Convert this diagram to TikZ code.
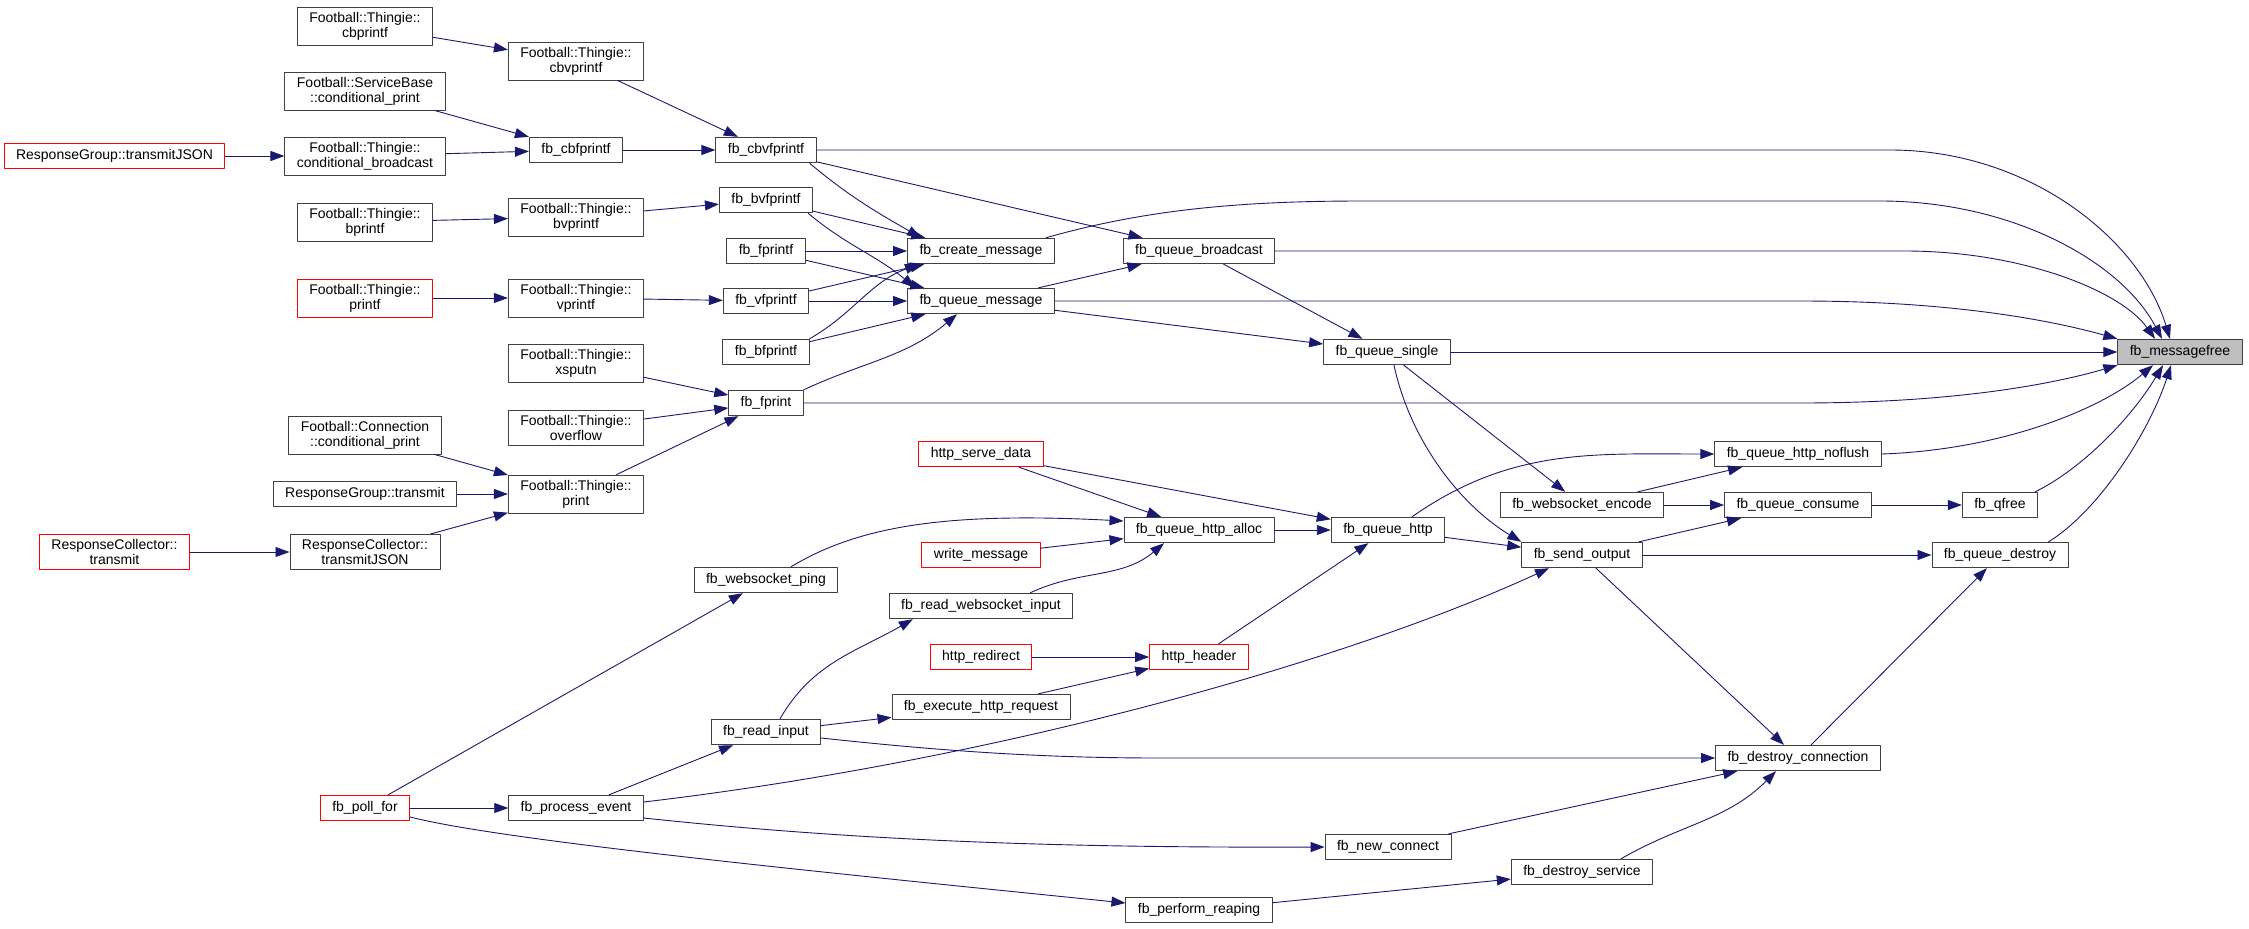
\documentclass[tikz,border=0pt]{standalone}
\usepackage{fontspec}
\setmainfont{Liberation Sans}
\usetikzlibrary{arrows.meta,calc}
\definecolor{edgeblue}{HTML}{191970}

\begin{document}
\begin{tikzpicture}[x=1pt,y=-1pt,line join=round,line cap=round,
 fn/.style={draw=black!75,line width=0.9pt,fill=white,font=\fontsize{14}{15}\selectfont,inner xsep=12pt,inner ysep=5pt,minimum height=25.5pt,align=center},
 redfn/.style={fn,draw=red},
 rootfn/.style={fn,fill=black!25},
 ln/.style={draw=edgeblue,line width=0.9pt,-{Triangle[length=14pt,width=10pt]}}]
\useasboundingbox (0,0) rectangle (2249,929);
\foreach \n/\x/\y/\t in {cbf/576/150/fb\_cbfprintf,cbvf/766/150/fb\_cbvfprintf,bvf/766/200/fb\_bvfprintf,fpf/766/251/fb\_fprintf,vf/766/301/fb\_vfprintf,bf/766/352/fb\_bfprintf,fp/766/403/fb\_fprint,cm/981/251/fb\_create\_message,qm/981/301/fb\_queue\_message,qb/1199/251/fb\_queue\_broadcast,qs/1387/352/fb\_queue\_single,qha/1199/530/fb\_queue\_http\_alloc,qh/1388/530/fb\_queue\_http,wsp/766/580/fb\_websocket\_ping,rwi/981/606/fb\_read\_websocket\_input,ehr/981/707/fb\_execute\_http\_request,ri/766/732/fb\_read\_input,pe/576/808/fb\_process\_event,nc/1388/847/fb\_new\_connect,pr/1199/910/fb\_perform\_reaping,ds/1582/872/fb\_destroy\_service,dc/1798/758/fb\_destroy\_connection,qhn/1798/454/fb\_queue\_http\_noflush,wse/1582/505/fb\_websocket\_encode,qc/1798/505/fb\_queue\_consume,qf/2000/505/fb\_qfree,so/1582/555/fb\_send\_output,qd/2000/555/fb\_queue\_destroy,rgt/365/494/ResponseGroup::transmit}
{\node[fn] (\n) at (\x,\y) {\t};}
\foreach \n/\x/\y/\a/\b in {tcb/365/26/Football::Thingie::/cbprintf,tcbv/576/61/Football::Thingie::/cbvprintf,sbcp/365/91/Football::ServiceBase/::conditional\_print,tcbc/365/156/Football::Thingie::/conditional\_broadcast,tb/365/222/Football::Thingie::/bprintf,tbv/576/217/Football::Thingie::/bvprintf,tvp/576/298/Football::Thingie::/vprintf,txs/576/363/Football::Thingie::/xsputn,tov/576/428/Football::Thingie::/overflow,ccp/365/435/Football::Connection/::conditional\_print,tpr/576/494/Football::Thingie::/print,rctj/365/552/ResponseCollector::/transmitJSON}
{\node[fn] (\n) at (\x,\y) {\a\\\b};}
\node[redfn] (rgtj) at (114.5,156) {ResponseGroup::transmitJSON};
\node[redfn] (tp) at (365,298) {Football::Thingie::\\printf};
\node[redfn] (rct) at (114.5,552) {ResponseCollector::\\transmit};
\foreach \n/\x/\y/\t in {hsd/981/454/http\_serve\_data,wm/981/555/write\_message,hr/981/657/http\_redirect,hh/1199/657/http\_header,pf/365/808/fb\_poll\_for}
{\node[redfn] (\n) at (\x,\y) {\t};}
\node[rootfn] (mf) at (2180,352) {fb\_messagefree};
\foreach \a/\b in {rgtj/tcbc,tcb/tcbv,sbcp/cbf,tcbc/cbf,tcbv/cbvf,cbf/cbvf,tb/tbv,tbv/bvf,tp/tvp,tvp/vf,txs/fp,tov/fp,tpr/fp,ccp/tpr,rgt/tpr,rctj/tpr,rct/rctj,cbvf/qb,bvf/cm,fpf/cm,fpf/qm,vf/cm,vf/qm,bf/qm,qm/qb,qm/qs,qb/qs,qs/mf,qs/wse,hsd/qha,hsd/qh,wm/qha,qha/qh,qh/so,hh/qh,hr/hh,ehr/hh,ri/ehr,pe/ri,pf/pe,pf/wsp,pr/ds,nc/dc,so/dc,so/qc,so/qd,wse/qhn,wse/qc,qc/qf,dc/qd}
{\draw[ln] (\a) -- (\b);}
\draw[ln] ([xshift=-7pt]cbvf.south east) to[out=-40,in=150] ([xshift=14pt]cm.north west);
\draw[ln] ([xshift=-5pt]bvf.south east) to[out=-40,in=140] ([xshift=8pt]qm.north west);
\draw[ln] (bf.north east) to[out=30,in=-160] ([xshift=12pt]cm.south west);
\draw[ln] (fp.north east) to[out=25,in=-140] ([xshift=50pt]qm.south west);
\draw[ln] ([xshift=-9pt]cm.north east) .. controls (1150,208) and (1250,201) .. (1363,201) -- (1880,201) .. controls (2010,201) and (2120,260) .. ([xshift=-18pt]mf.north);
\draw[ln] (cbvf.east) -- (1890,150) .. controls (2030,150) and (2140,240) .. ([xshift=-10pt]mf.north);
\draw[ln] (qb.east) -- (1905,251) .. controls (2020,251) and (2120,290) .. ([xshift=-25pt]mf.north);
\draw[ln] (qm.east) -- (1800,301) .. controls (1950,301) and (2050,320) .. (mf.north west);
\draw[ln] (fp.east) -- (1800,403) .. controls (1950,403) and (2050,385) .. (mf.south west);
\draw[ln] (qhn.east) .. controls (2000,450) and (2100,410) .. ([xshift=-27pt]mf.south);
\draw[ln] ([xshift=-3pt]qf.north east) .. controls (2080,470) and (2130,420) .. ([xshift=-17pt]mf.south);
\draw[ln] ([xshift=-20pt]qd.north east) .. controls (2100,510) and (2150,430) .. ([xshift=-9pt]mf.south);
\draw[ln] ([xshift=7pt]qs.south) .. controls (1410,440) and (1460,505) .. (so.north west);
\draw[ln] ([xshift=24pt]qh.north) to[out=35,in=180] (qhn.west);
\draw[ln] ([xshift=25pt]wsp.north) .. controls (860,525) and (950,512) .. ([yshift=9pt]qha.west);
\draw[ln] ([xshift=-43pt]rwi.north east) to[out=25,in=-140] ([xshift=-35pt]qha.south);
\draw[ln] ([xshift=14pt]ri.north) to[out=60,in=-150] ([xshift=24pt]rwi.south west);
\draw[ln] ([yshift=-6pt]ri.east) .. controls (950,752) and (1050,758) .. (1160,758) -- (dc.west);
\draw[ln] ([yshift=6pt]pe.east) .. controls (1000,760) and (1350,660) .. ([xshift=-33pt]so.south);
\draw[ln] ([yshift=-10pt]pe.east) .. controls (850,840) and (1050,848) .. (nc.west);
\draw[ln] ([yshift=-9pt]pf.east) .. controls (500,840) and (800,870) .. ([yshift=7pt]pr.west);
\draw[ln] ([xshift=39pt]ds.north) to[out=30,in=-135] ([xshift=-22pt]dc.south);
\end{tikzpicture}
\end{document}
